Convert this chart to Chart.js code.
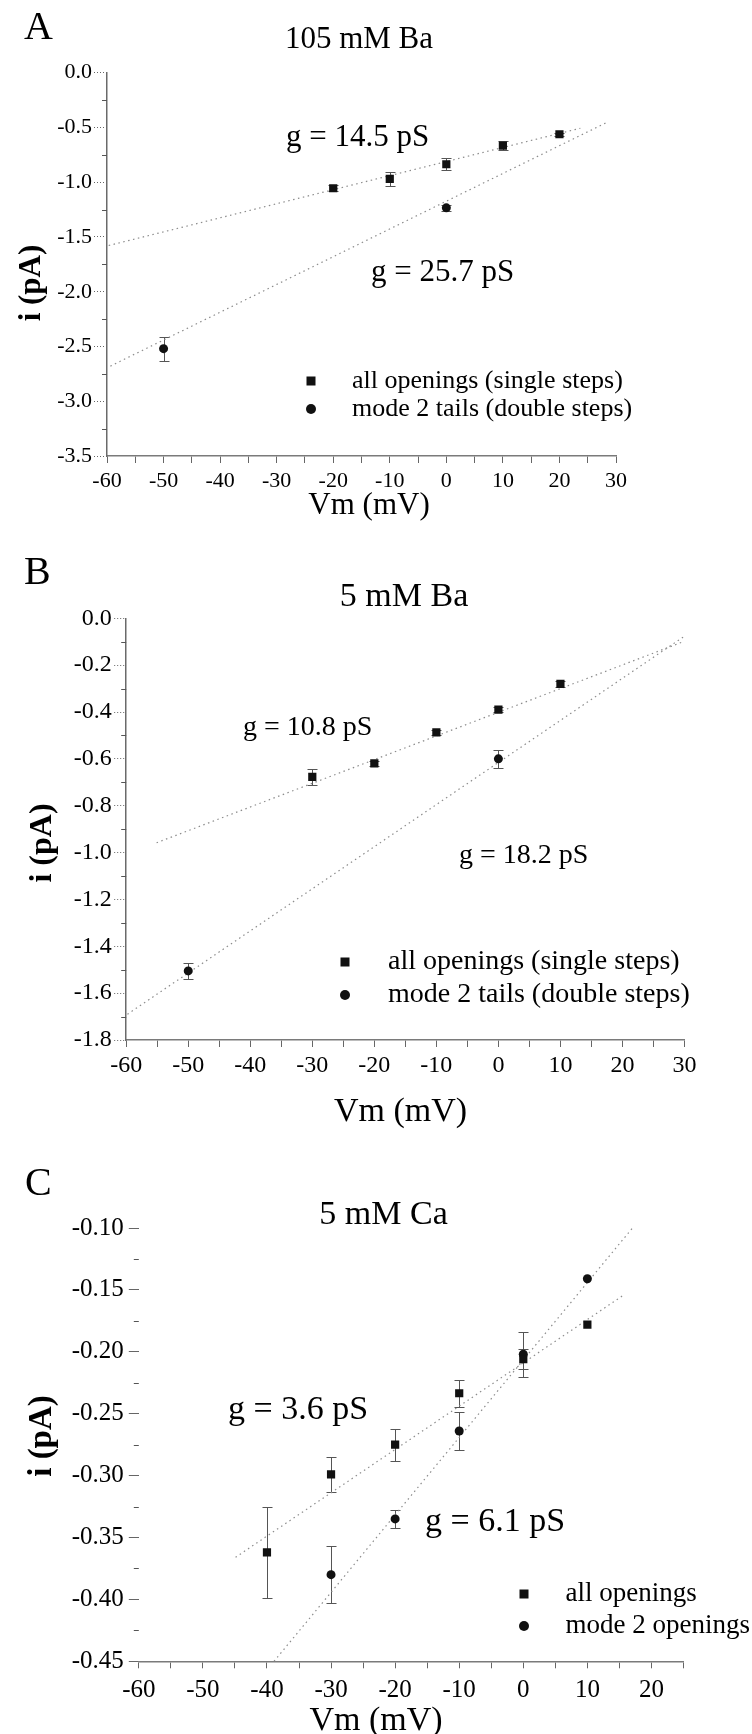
<!DOCTYPE html>
<html>
<head>
<meta charset="utf-8">
<script src="https://cdn.jsdelivr.net/npm/chart.js@4.4.1/dist/chart.umd.min.js"></script>
<style>
html, body { margin: 0; padding: 0; background: #fff; }
#wrap { position: relative; width: 752px; height: 1734px; overflow: hidden; }
canvas { position: absolute; left: 0; }
</style>
</head>
<body>
<div id="wrap">
  <canvas id="chartA"></canvas>
  <canvas id="chartB"></canvas>
  <canvas id="chartC"></canvas>
</div>
<script>
// ---- panel A : 105 mM Ba ----
const aAllVm = [-20, -10, 0, 10, 20];
const aAllI = [-1.055, -0.97, -0.836, -0.666, -0.562];
const aAllErr = [0.025, 0.064, 0.056, 0.04, 0.015];
const aTailVm = [-50, 0];
const aTailI = [-2.52, -1.234];
const aTailErr = [0.11, 0.03];
const aFitAllVm = [-59.7, 23.7];
const aFitAllI = [-1.578, -0.507];
const aFitTailVm = [-59.4, 28.3];
const aFitTailI = [-2.679, -0.456];
const aXTicks = [-60, -50, -40, -30, -20, -10, 0, 10, 20, 30];
const aYTicks = [0, -0.5, -1.0, -1.5, -2.0, -2.5, -3.0, -3.5];

// ---- panel B : 5 mM Ba ----
const bAllVm = [-30, -20, -10, 0, 10];
const bAllI = [-0.677, -0.619, -0.487, -0.39, -0.28];
const bAllErr = [0.035, 0.01, 0.01, 0.012, 0.012];
const bTailVm = [-50, 0];
const bTailI = [-1.505, -0.6];
const bTailErr = [0.035, 0.038];
const bFitAllVm = [-55.1, 29.8];
const bFitAllI = [-0.958, -0.1];
const bFitTailVm = [-59.8, 29.8];
const bFitTailI = [-1.69, -0.08];
const bXTicks = [-60, -50, -40, -30, -20, -10, 0, 10, 20, 30];
const bYTicks = [0, -0.2, -0.4, -0.6, -0.8, -1.0, -1.2, -1.4, -1.6, -1.8];

// ---- panel C : 5 mM Ca ----
const cAllVm = [-40, -30, -20, -10, 0, 10];
const cAllI = [-0.362, -0.299, -0.275, -0.2335, -0.206, -0.178];
const cAllErr = [0.037, 0.014, 0.013, 0.011, 0.008, 0];
const cModeVm = [-30, -20, -10, 0, 10];
const cModeI = [-0.38, -0.335, -0.264, -0.202, -0.141];
const cModeErr = [0.023, 0.007, 0.015, 0.018, 0];
const cFitAllVm = [-44.9, 15.7];
const cFitAllI = [-0.366, -0.154];
const cFitModeVm = [-38.9, 17.2];
const cFitModeI = [-0.45, -0.099];
const cXTicks = [-60, -50, -40, -30, -20, -10, 0, 10, 20];
const cYTicks = [-0.10, -0.15, -0.20, -0.25, -0.30, -0.35, -0.40, -0.45];

const FONT = "'Liberation Serif', 'Times New Roman', serif";
const Y_W = 80;   // fixed width of the y scale box

const toPts = (xs, ys) => xs.map((x, i) => ({ x: x, y: ys[i] }));

// vertical error bars with caps, drawn under the markers
const errorBars = {
    id: 'errorBars',
    beforeDatasetsDraw(chart) {
        const ctx = chart.ctx, xs = chart.scales.x, ys = chart.scales.y;
        ctx.save();
        ctx.strokeStyle = '#555';
        ctx.lineWidth = 1;
        chart.data.datasets.forEach(ds => {
            if (!ds.errors) return;
            ds.data.forEach((p, i) => {
                const e = ds.errors[i];
                if (!e) return;
                const px = Math.round(xs.getPixelForValue(p.x)) + 0.5;
                const y1 = Math.round(ys.getPixelForValue(p.y + e)) + 0.5;
                const y2 = Math.round(ys.getPixelForValue(p.y - e)) + 0.5;
                ctx.beginPath();
                ctx.moveTo(px, y1); ctx.lineTo(px, y2);
                ctx.moveTo(px - 5, y1); ctx.lineTo(px + 5, y1);
                ctx.moveTo(px - 5, y2); ctx.lineTo(px + 5, y2);
                ctx.stroke();
            });
        });
        ctx.restore();
    }
};

// small minor ticks half way between the y labels
const minorTicks = {
    id: 'minorTicks',
    afterDraw(chart) {
        const ys = chart.scales.y, ctx = chart.ctx;
        const vals = ys.ticks.map(t => t.value);
        ctx.save();
        ctx.strokeStyle = '#555';
        ctx.lineWidth = 1;
        for (let i = 0; i < vals.length - 1; i++) {
            const py = Math.round(ys.getPixelForValue((vals[i] + vals[i + 1]) / 2)) + 0.5;
            ctx.beginPath();
            ctx.moveTo(ys.right - 5, py);
            ctx.lineTo(ys.right, py);
            ctx.stroke();
        }
        ctx.restore();
    }
};

// titles, annotations and the in-plot legend
const panelText = {
    id: 'panelText',
    afterDraw(chart, args, opts) {
        const ctx = chart.ctx;
        const top = opts.top;
        ctx.save();
        ctx.fillStyle = '#000';
        ctx.textBaseline = 'middle';
        opts.items.forEach(it => {
            ctx.font = (it.bold ? 'bold ' : '') + it.size + 'px ' + FONT;
            ctx.textAlign = it.align || 'left';
            if (it.rot) {
                ctx.save();
                ctx.translate(it.x, it.y - top);
                ctx.rotate(-Math.PI / 2);
                ctx.textAlign = 'center';
                ctx.fillText(it.t, 0, 0);
                ctx.restore();
            } else {
                ctx.fillText(it.t, it.x, it.y - top);
            }
        });
        const lg = opts.legend;
        ctx.font = lg.size + 'px ' + FONT;
        ctx.textAlign = 'left';
        lg.rows.forEach((r, i) => {
            const y = lg.ys[i] - top;
            ctx.fillStyle = '#111';
            if (r.style === 'rect') {
                ctx.fillRect(lg.mx - 4.5, y - 4.5, 9, 9);
            } else {
                ctx.beginPath();
                ctx.arc(lg.mx, y, 5, 0, Math.PI * 2);
                ctx.fill();
            }
            ctx.fillStyle = '#000';
            ctx.fillText(r.label, lg.tx, y);
        });
        ctx.restore();
    }
};

const makeChart = (id, p) => {
    const canvas = document.getElementById(id);
    canvas.width = 752;
    canvas.height = p.height;
    canvas.style.top = p.top + 'px';

    const markerSet = (label, xs, ys, errs, style, r) => ({
        label: label,
        data: toPts(xs, ys),
        errors: errs,
        pointStyle: style,
        pointRadius: r,
        pointBackgroundColor: '#111',
        pointBorderWidth: 0,
        showLine: false
    });
    const fitSet = (xs, ys) => ({
        data: toPts(xs, ys),
        showLine: true,
        borderColor: '#8c8c8c',
        borderWidth: 1.2,
        borderDash: [1.5, 3.5],
        pointRadius: 0,
        fill: false
    });

    return new Chart(canvas, {
        type: 'scatter',
        data: {
            datasets: [
                markerSet(p.names[0], p.s1[0], p.s1[1], p.s1[2], 'rect', 5.8),
                markerSet(p.names[1], p.s2[0], p.s2[1], p.s2[2], 'circle', 4.5),
                fitSet(p.f1[0], p.f1[1]),
                fitSet(p.f2[0], p.f2[1])
            ]
        },
        options: {
            responsive: false,
            animation: false,
            layout: { padding: { left: p.areaLeft - Y_W, right: p.pad.right, top: p.pad.top, bottom: p.pad.bottom } },
            scales: {
                x: {
                    type: 'linear',
                    min: p.xMin,
                    max: p.xMax,
                    afterFit: s => { s.height = 44; },
                    afterBuildTicks: s => {
                        const t = [];
                        for (let v = p.xMin; v <= p.xMax + 1e-9; v += 5) t.push({ value: v });
                        s.ticks = t;
                    },
                    grid: { drawOnChartArea: false, drawTicks: true, tickLength: 7, tickColor: '#666', tickWidth: 1 },
                    border: { display: true, color: '#7a7a7a', width: 1.5, dash: p.xDash },
                    ticks: {
                        autoSkip: false,
                        maxRotation: 0,
                        padding: p.xPad,
                        color: '#000',
                        font: { family: FONT, size: p.tickSize },
                        callback: v => p.xTicks.includes(v) ? String(v) : ''
                    }
                },
                y: {
                    type: 'linear',
                    min: p.yTicks[p.yTicks.length - 1],
                    max: p.yTicks[0],
                    afterFit: s => { s.width = Y_W; },
                    afterBuildTicks: s => { s.ticks = p.yTicks.map(v => ({ value: v })); },
                    grid: { drawOnChartArea: false, drawTicks: true, tickLength: p.yTick, tickColor: '#666', tickWidth: 1, tickBorderDash: p.yTickDash },
                    border: { display: p.yBorder, color: '#6a6a6a', width: 1.5 },
                    ticks: {
                        autoSkip: false,
                        padding: p.yPad,
                        color: '#000',
                        font: { family: FONT, size: p.tickSize },
                        callback: v => v.toFixed(p.yDigits)
                    }
                }
            },
            plugins: {
                legend: { display: false },
                tooltip: { enabled: false },
                panelText: { top: p.top, items: p.items, legend: p.legend }
            }
        },
        plugins: [errorBars, minorTicks, panelText]
    });
};

makeChart('chartA', {
    top: 0, height: 540, areaLeft: 107,
    pad: { right: 136, top: 72.7, bottom: 40 },
    xMin: -60, xMax: 30, xTicks: aXTicks, yTicks: aYTicks, yDigits: 1,
    tickSize: 22, xPad: 5, yPad: 2, yTick: 13, yTickDash: [1, 2], yBorder: true, xDash: [],
    names: ['all openings (single steps)', 'mode 2 tails (double steps)'],
    s1: [aAllVm, aAllI, aAllErr], s2: [aTailVm, aTailI, aTailErr],
    f1: [aFitAllVm, aFitAllI], f2: [aFitTailVm, aFitTailI],
    items: [
        { t: 'A', x: 24, y: 28, size: 40 },
        { t: '105 mM Ba', x: 359, y: 40, size: 31, align: 'center' },
        { t: 'g = 14.5 pS', x: 286, y: 138, size: 31 },
        { t: 'g = 25.7 pS', x: 371, y: 273, size: 31 },
        { t: 'i (pA)', x: 31.5, y: 283, size: 31, rot: true, bold: true },
        { t: 'Vm (mV)', x: 369, y: 506, size: 31, align: 'center' }
    ],
    legend: {
        size: 26, mx: 311, tx: 352, ys: [381, 409],
        rows: [{ style: 'rect', label: 'all openings (single steps)' }, { style: 'circle', label: 'mode 2 tails (double steps)' }]
    }
});

makeChart('chartB', {
    top: 540, height: 600, areaLeft: 126.2,
    pad: { right: 67.5, top: 78.3, bottom: 56 },
    xMin: -60, xMax: 30, xTicks: bXTicks, yTicks: bYTicks, yDigits: 1,
    tickSize: 24, xPad: 4, yPad: 2.5, yTick: 12, yTickDash: [1, 2], yBorder: true, xDash: [1, 2],
    names: ['all openings (single steps)', 'mode 2 tails (double steps)'],
    s1: [bAllVm, bAllI, bAllErr], s2: [bTailVm, bTailI, bTailErr],
    f1: [bFitAllVm, bFitAllI], f2: [bFitTailVm, bFitTailI],
    items: [
        { t: 'B', x: 24, y: 573, size: 40 },
        { t: '5 mM Ba', x: 404, y: 597, size: 34, align: 'center' },
        { t: 'g = 10.8 pS', x: 243, y: 728, size: 28 },
        { t: 'g = 18.2 pS', x: 459, y: 856, size: 28 },
        { t: 'i (pA)', x: 42.5, y: 843, size: 32, rot: true, bold: true },
        { t: 'Vm (mV)', x: 400.5, y: 1112, size: 34, align: 'center' }
    ],
    legend: {
        size: 28, mx: 345, tx: 388, ys: [962, 995],
        rows: [{ style: 'rect', label: 'all openings (single steps)' }, { style: 'circle', label: 'mode 2 tails (double steps)' }]
    }
});

makeChart('chartC', {
    top: 1140, height: 594, areaLeft: 138.8,
    pad: { right: 68.5, top: 88, bottom: 28.7 },
    xMin: -60, xMax: 25, xTicks: cXTicks, yTicks: cYTicks, yDigits: 2,
    tickSize: 25, xPad: 7, yPad: 5, yTick: 10, yTickDash: [], yBorder: false, xDash: [1, 2],
    names: ['all openings', 'mode 2 openings'],
    s1: [cAllVm, cAllI, cAllErr], s2: [cModeVm, cModeI, cModeErr],
    f1: [cFitAllVm, cFitAllI], f2: [cFitModeVm, cFitModeI],
    items: [
        { t: 'C', x: 25, y: 1184, size: 40 },
        { t: '5 mM Ca', x: 383.5, y: 1215, size: 34, align: 'center' },
        { t: 'g = 3.6 pS', x: 228, y: 1410, size: 34 },
        { t: 'g = 6.1 pS', x: 425, y: 1522, size: 34 },
        { t: 'i (pA)', x: 42.5, y: 1436, size: 33, rot: true, bold: true },
        { t: 'Vm (mV)', x: 376, y: 1721, size: 34, align: 'center' }
    ],
    legend: {
        size: 27, mx: 524, tx: 565.5, ys: [1594, 1626],
        rows: [{ style: 'rect', label: 'all openings' }, { style: 'circle', label: 'mode 2 openings' }]
    }
});
</script>
</body>
</html>
